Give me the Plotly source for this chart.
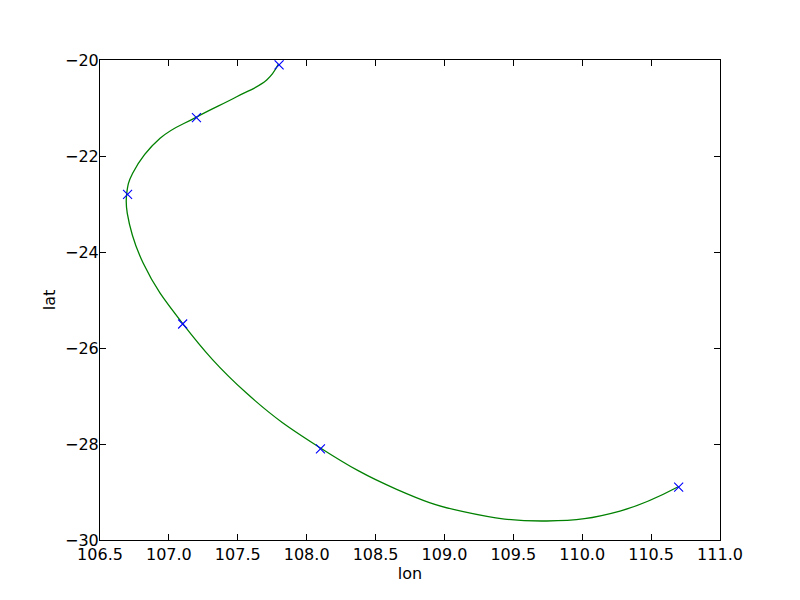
import plotly.graph_objects as go

# observed positions (markers)
obs_lon = [107.8, 107.2, 106.7, 107.1, 108.1, 110.7]
obs_lat = [-20.1, -21.2, -22.8, -25.5, -28.1, -28.9]

# smoothed track
track_lon = [107.794, 107.710, 107.492, 107.197, 106.936, 106.737, 106.694, 106.698,
             106.814, 107.099, 107.565, 108.097, 108.653, 109.137, 109.742, 110.274,
             110.697]
track_lat = [-20.090, -20.417, -20.765, -21.194, -21.631, -22.360, -22.777, -23.194,
             -24.235, -25.485, -26.944, -28.077, -28.944, -29.410, -29.604, -29.396,
             -28.890]

x_ticks = [106.5, 107.0, 107.5, 108.0, 108.5, 109.0, 109.5, 110.0, 110.5, 111.0]
y_ticks = [-30, -28, -26, -24, -22, -20]

fig = go.Figure()
fig.add_trace(go.Scatter(x=track_lon, y=track_lat, mode="lines",
                         line=dict(color="#008000", width=1.3, shape="spline", smoothing=1.2),
                         showlegend=False, hoverinfo="skip"))
fig.add_trace(go.Scatter(x=obs_lon, y=obs_lat, mode="markers",
                         marker=dict(symbol="x-thin", size=9, color="#0000ff",
                                     line=dict(color="#0000ff", width=1.1)),
                         showlegend=False))

axis_common = dict(showgrid=False, zeroline=False, showline=True, linecolor="black",
                   linewidth=1, mirror="ticks", ticks="inside", ticklen=6,
                   tickcolor="black", tickfont=dict(family="DejaVu Sans", size=16, color="black"))

fig.update_layout(
    width=800, height=600,
    margin=dict(l=100, r=80, t=60, b=60),
    paper_bgcolor="white", plot_bgcolor="white",
    font=dict(family="DejaVu Sans", size=16, color="black"),
    xaxis=dict(range=[106.5, 111.0], tickvals=x_ticks,
               ticktext=[f"{v:.1f}" for v in x_ticks],
               title=dict(text="lon", font=dict(size=16), standoff=4), **axis_common),
    yaxis=dict(range=[-30, -20], tickvals=y_ticks,
               ticktext=[f"\u2212{abs(v)}" for v in y_ticks],
               ticklabelstandoff=-3,
               title=dict(text="lat", font=dict(size=16), standoff=5), **axis_common),
)

fig.write_html("out.html", config={"displayModeBar": False},
               post_script="document.body.style.margin='0';")
